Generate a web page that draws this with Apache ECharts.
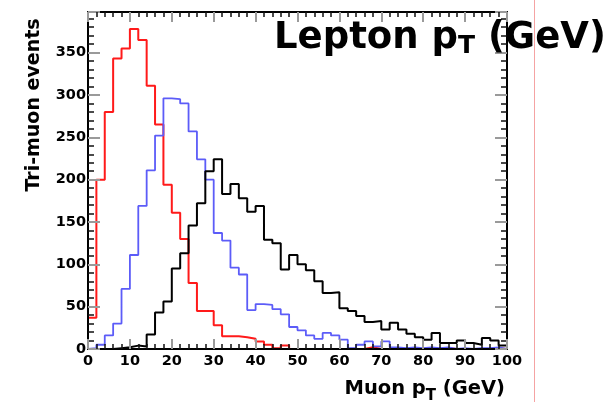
<!DOCTYPE html>
<html><head><meta charset="utf-8">
<script src="https://cdn.jsdelivr.net/npm/echarts@6/dist/echarts.min.js"></script>
<style>html,body{margin:0;padding:0;background:#fff}#c{width:607px;height:402px}</style>
</head><body><div id="c"></div>
<script>
// ---- data (Muon pT histograms, 2 GeV bins) ----
const binLow = [0,2,4,6,8,10,12,14,16,18,20,22,24,26,28,30,32,34,36,38,40,42,44,46,48,50,52,54,56,58,60,62,64,66,68,70,72,74,76,78,80,82,84,86,88,90,92,94,96,98];
const binWidth = 2;
const redCounts = [37,200,280,343,355,378,365,311,265,194,161,130,78,45,45,28,15,15,14,12,9,5,1,4,0,0,0,0,0,0,0,0,0,2,0,0,0,0,0,0,1,0,1,0,0,0,0,0,1,0];
const blueCounts = [1,5,16,30,71,111,169,211,252,296,295,290,257,224,200,137,128,96,88,46,53,52,47,41,26,22,16,12,19,16,11,1,5,9,3,9,2,1,2,1,2,1,2,0,1,0,1,1,2,0];
const blackCounts = [0,0,0,1,2,4,3,17,43,56,95,113,146,172,210,224,183,195,178,162,169,129,125,94,111,100,93,80,66,67,48,45,39,32,33,23,31,23,18,14,11,19,7,7,10,7,5,13,10,4];
const xTickLabels = [0,10,20,30,40,50,60,70,80,90,100];
const yTickLabels = [0,50,100,150,200,250,300,350];

const FONT = '"DejaVu Sans"';
const ctx2 = document.createElement('canvas').getContext('2d');
function tw(s, size){ ctx2.font = 'bold ' + size + 'px ' + FONT; return ctx2.measureText(s).width; }

function steps(vals){
  const pts = [[binLow[0], 0]];
  vals.forEach((v,i)=>pts.push([binLow[i], v]));
  const last = binLow[binLow.length-1] + binWidth;
  pts.push([last, vals[vals.length-1]]);
  pts.push([last, 0]);
  return pts;
}

const xMin = xTickLabels[0], xMax = xTickLabels[xTickLabels.length-1];
const yMin = yTickLabels[0], yMax = 398;

function xAx(pos, showLabels){
  return {type:'value', position:pos, min:xMin, max:xMax, interval:10, z:5,
    axisLine:{show:true, onZero:false, lineStyle:{color:'#000', width:2}},
    axisTick:{show:true, inside:true, length:10, lineStyle:{color:'#9a9a9a', width:2}},
    minorTick:{show:true, splitNumber:5, length:5, lineStyle:{color:'#111', width:1.5}},
    axisLabel:{show:showLabels, margin:5, color:'#000', fontFamily:FONT, fontWeight:'bold', fontSize:14.5,
      showMinLabel:true, showMaxLabel:true, hideOverlap:false},
    splitLine:{show:false}, minorSplitLine:{show:false}};
}
function yAx(pos, showLabels){
  return {type:'value', position:pos, min:yMin, max:yMax, interval:50, z:5,
    axisLine:{show:true, onZero:false, lineStyle:{color:'#000', width:2}},
    axisTick:{show:true, inside:true, length:12, lineStyle:{color:'#9a9a9a', width:2}},
    minorTick:{show:true, splitNumber:5, length:6, lineStyle:{color:'#111', width:1.5}},
    axisLabel:{show:showLabels, margin:2, color:'#000', fontFamily:FONT, fontWeight:'bold', fontSize:14.5,
      showMinLabel:true, showMaxLabel:false, hideOverlap:false},
    splitLine:{show:false}, minorSplitLine:{show:false}};
}

// title pieces
const tSize = 37, tSub = 25, tx0 = 274;
const tW1 = tw('Lepton p', tSize), tW2 = tw('T', tSub);
// x-axis title pieces
const aSize = 19.5, aSub = 15;
const aTotal = tw('Muon p', aSize) + tw('T', aSub) + tw(' (GeV)', aSize);
const ax0 = 505 - aTotal;
const aW1 = tw('Muon p', aSize), aW2 = tw('T', aSub);

function txt(x, y, s, size, extra){
  return Object.assign({type:'text', x:x, y:y, z:10, style:{text:s, fill:'#000', font:'bold ' + size + 'px ' + FONT, align:'left', verticalAlign:'middle'}}, extra||{});
}

const chart = echarts.init(document.getElementById('c'), null, {renderer:'canvas'});
chart.setOption({
  animation:false,
  backgroundColor:'#fff',
  grid:{left:88, right:100, top:12, bottom:53, containLabel:false, outerBoundsMode:'none'},
  xAxis:[xAx('bottom', true), xAx('top', false)],
  yAxis:[yAx('left', true), yAx('right', false)],
  series:[
    {type:'line', name:'red', step:'end', showSymbol:false, symbol:'none', data:steps(redCounts), z:2,
      lineStyle:{color:'#ff1a1a', width:2}, itemStyle:{color:'#ff1a1a'}},
    {type:'line', name:'blue', step:'end', showSymbol:false, symbol:'none', data:steps(blueCounts), z:2,
      lineStyle:{color:'#5c5cf8', width:1.8}, itemStyle:{color:'#5c5cf8'}},
    {type:'line', name:'black', step:'end', showSymbol:false, symbol:'none', data:steps(blackCounts), z:2,
      lineStyle:{color:'#000', width:2}, itemStyle:{color:'#000'}}
  ],
  graphic:[
    {type:'line', z:1, shape:{x1:534.5, y1:0, x2:534.5, y2:402}, style:{stroke:'#f5a3a3', lineWidth:1}},
    txt(tx0, 51.7 - 0.36*tSize, 'Lepton p', tSize),
    txt(tx0 + tW1, 55 - 0.36*tSub, 'T', tSub),
    txt(tx0 + tW1 + tW2, 51.7 - 0.36*tSize, ' (GeV)', tSize),
    txt(ax0, 396 - 0.36*aSize, 'Muon p', aSize),
    txt(ax0 + aW1, 401.5 - 0.36*aSub, 'T', aSub),
    txt(ax0 + aW1 + aW2, 396 - 0.36*aSize, ' (GeV)', aSize),
    {type:'text', x:34.5, y:105, rotation:Math.PI/2, z:10,
      style:{text:'Tri-muon events', fill:'#000', font:'bold 19px ' + FONT, align:'center', verticalAlign:'middle'}}
  ]
});
</script>
</body></html>
